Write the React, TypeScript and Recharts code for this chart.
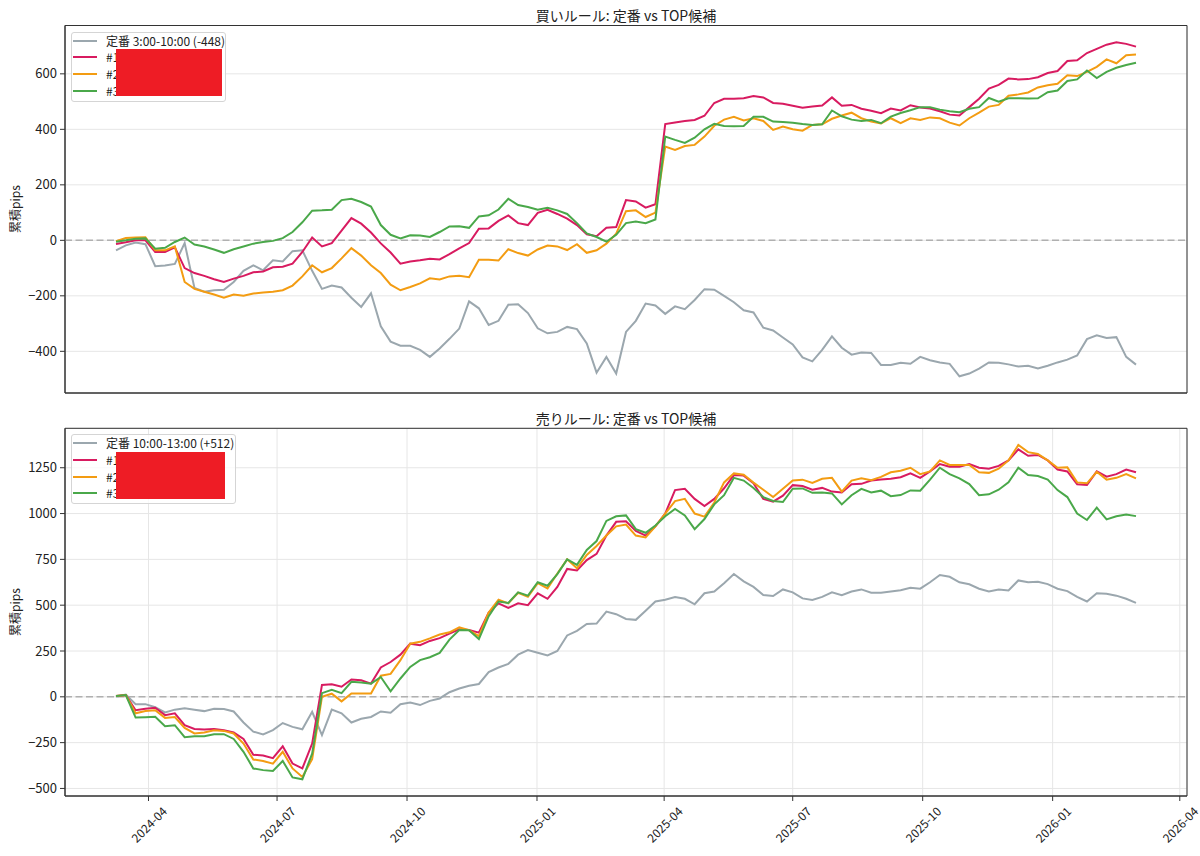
import {
  LineChart, Line, XAxis, YAxis, CartesianGrid, ReferenceLine, ReferenceArea,
} from 'recharts'

// matplotlib-ish look, plain hex (SVG attributes)
const FONT        = "'Noto Sans CJK JP', 'Noto Sans', sans-serif"
const TEXT_COLOR  = '#222222'
const AXIS_COLOR  = '#333333'
const GRID_COLOR  = '#e6e6e6'
const ZERO_COLOR  = '#b0b0b0'
const TICK_SIZE   = 13
const DATE_SIZE   = 12
const SERIES_COLORS = ['#9ba7ae', '#d81b60', '#f39c12', '#4aa84a']

// weekly samples 2024-03-09 .. 2026-03-01
const START  = Date.UTC(2024, 2, 9)
const END    = Date.UTC(2026, 2, 1)
const POINTS = 105
const DATES  = Array.from({ length: POINTS }, (_, i) => START + ((END - START) * i) / (POINTS - 1))

const X_TICK_LABELS = ['2024-04', '2024-07', '2024-10', '2025-01', '2025-04', '2025-07', '2025-10', '2026-01', '2026-04']
const X_TICKS = X_TICK_LABELS.map(s => Date.UTC(+s.slice(0, 4), +s.slice(5) - 1, 1))
const X_PAD = (END - START) * 0.05
const X_DOMAIN: [number, number] = [START - X_PAD, END + X_PAD]

const BUY_Y_TICKS  = [-400, -200, 0, 200, 400, 600]
const SELL_Y_TICKS = [-500, -250, 0, 250, 500, 750, 1000, 1250]

const BUY_TITLE  = '買いルール: 定番 vs TOP候補'
const SELL_TITLE = '売りルール: 定番 vs TOP候補'
const Y_LABEL    = '累積pips'
const BUY_LABELS  = ['定番 3:00-10:00 (-448)', '#1', '#2', '#3']
const SELL_LABELS = ['定番 10:00-13:00 (+512)', '#1', '#2', '#3']

// ---- buy rule (top) ----
const BUY_BASE = [
  -36, -18, -8, -14, -93, -91, -85, -10, -172, -185,
  -180, -178, -150, -110, -90, -108, -72, -76, -39, -36,
  -110, -175, -163, -170, -207, -240, -191, -310, -365, -380,
  -380, -395, -420, -390, -355, -318, -220, -245, -305, -290,
  -232, -230, -262, -317, -335, -330, -312, -320, -372, -477,
  -420, -480, -330, -290, -228, -235, -265, -238, -248, -215,
  -176, -178, -200, -223, -252, -260, -315, -325, -350, -375,
  -422, -436, -395, -346, -387, -412, -404, -406, -449, -449,
  -441, -445, -420, -432, -440, -445, -490, -480, -462, -440,
  -441, -447, -455, -452, -462, -452, -440, -430, -415, -356,
  -342, -352, -349, -420, -448,
]
const BUY_1 = [
  -13, -7, 0, 0, -42, -42, -25, -100, -118, -128,
  -140, -150, -138, -128, -115, -112, -97, -95, -84, -42,
  10, -22, -10, 35, 80, 60, 28, -11, -44, -84,
  -76, -72, -66, -69, -50, -29, -10, 42, 43, 70,
  90, 62, 55, 99, 110, 95, 78, 55, 22, 15,
  45, 48, 145, 140, 118, 130, 419, 425, 430, 434,
  449, 495, 510, 510, 512, 520, 515, 495, 492, 485,
  478, 482, 486, 515, 485, 488, 474, 467, 458, 475,
  468, 487, 479, 475, 465, 453, 450, 480, 510, 547,
  560, 583, 580, 581, 588, 603, 610, 646, 649, 675,
  690, 705, 714, 708, 698,
]
const BUY_2 = [
  -3, 8, 10, 11, -36, -36, -22, -150, -175, -185,
  -195, -207, -195, -200, -192, -188, -185, -180, -163, -130,
  -90, -115, -100, -65, -28, -55, -90, -118, -160, -180,
  -168, -155, -137, -141, -130, -128, -133, -70, -70, -73,
  -32, -46, -55, -33, -19, -22, -35, -14, -45, -36,
  -12, 24, 105, 108, 84, 100, 338, 326, 340, 344,
  374, 413, 435, 445, 432, 440, 430, 398, 410, 400,
  395, 416, 418, 438, 450, 460, 440, 428, 421, 440,
  422, 440, 434, 443, 440, 424, 414, 440, 460, 482,
  488, 521, 526, 533, 551, 559, 564, 595, 592, 607,
  625, 652, 638, 667, 670,
]
const BUY_3 = [
  -5, 0, 6, 7, -30, -27, -6, 10, -15, -22,
  -33, -45, -32, -22, -12, -6, -2, 8, 30, 65,
  107, 108, 110, 145, 150, 138, 122, 55, 20, 7,
  18, 17, 12, 30, 50, 51, 45, 86, 90, 111,
  150, 127, 120, 110, 117, 108, 95, 62, 25, 12,
  -5, 20, 62, 68, 62, 75, 374, 362, 351, 370,
  400, 420, 412, 411, 412, 445, 445, 428, 426, 424,
  419, 416, 418, 468, 447, 435, 430, 434, 422, 446,
  459, 469, 480, 480, 471, 465, 462, 474, 480, 513,
  500, 512, 512, 511, 512, 534, 540, 574, 580, 612,
  585, 607, 622, 632, 640,
]

// ---- sell rule (bottom) ----
const SELL_BASE = [
  0, 12, -40, -40, -57, -85, -70, -62, -70, -78,
  -65, -67, -80, -140, -190, -205, -182, -143, -164, -177,
  -82, -209, -70, -90, -140, -120, -110, -80, -87, -40,
  -31, -45, -22, -9, 25, 45, 60, 70, 135, 160,
  180, 230, 255, 240, 226, 250, 335, 360, 398, 400,
  465, 451, 425, 420, 470, 520, 530, 545, 535, 505,
  565, 575, 620, 670, 630, 600, 555, 550, 586, 570,
  537, 528, 545, 570, 555, 575, 586, 568, 568, 575,
  582, 595, 590, 625, 665, 655, 625, 614, 590, 575,
  585, 580, 635, 625, 628, 615, 590, 577, 545, 520,
  565, 562, 552, 535, 513,
]
const SELL_1 = [
  5, 10, -73, -65, -60, -100, -90, -155, -175, -178,
  -175, -182, -195, -230, -316, -320, -335, -270, -364, -391,
  -255, 65, 69, 55, 95, 90, 72, 160, 190, 230,
  290, 282, 305, 320, 345, 368, 365, 350, 460, 510,
  485, 510, 500, 565, 535, 600, 698, 690, 746, 780,
  880, 955, 958, 905, 880, 930, 1000, 1128, 1135, 1080,
  1041, 1080, 1138, 1210, 1207, 1165, 1080, 1065, 1098, 1155,
  1150, 1130, 1140, 1120, 1115, 1160, 1162, 1180, 1186, 1190,
  1198, 1220, 1195, 1230, 1270, 1256, 1256, 1270, 1250, 1245,
  1260, 1290, 1350, 1315, 1320, 1290, 1240, 1230, 1160, 1156,
  1230, 1201, 1215, 1240, 1225,
]
const SELL_2 = [
  5, 10, -90, -78, -73, -115, -110, -170, -200, -195,
  -182, -186, -200, -255, -342, -350, -365, -300, -391, -437,
  -340, 0, 17, -25, 18, 18, 18, 115, 125, 200,
  290, 300, 319, 340, 352, 379, 363, 331, 460, 530,
  510, 568, 546, 620, 592, 673, 750, 701, 774, 823,
  880, 930, 940, 880, 870, 930, 1000, 1068, 1080, 1000,
  983, 1060, 1170, 1219, 1212, 1169, 1130, 1090, 1135, 1180,
  1185, 1167, 1190, 1195, 1120, 1180, 1192, 1182, 1200, 1225,
  1234, 1250, 1215, 1230, 1290, 1265, 1265, 1265, 1225, 1222,
  1245, 1290, 1374, 1335, 1325, 1290, 1250, 1252, 1170, 1165,
  1228, 1185, 1195, 1215, 1192,
]
const SELL_3 = [
  5, 10, -113, -111, -109, -160, -155, -220, -215, -215,
  -204, -204, -230, -300, -391, -400, -405, -350, -440, -450,
  -310, 20, 38, 20, 82, 78, 72, 108, 30, 100,
  163, 200, 216, 240, 312, 364, 363, 315, 440, 520,
  512, 570, 552, 625, 606, 670, 750, 720, 801, 850,
  960, 985, 990, 915, 895, 935, 985, 1025, 990, 915,
  970, 1050, 1100, 1195, 1180, 1140, 1090, 1069, 1063, 1136,
  1137, 1113, 1115, 1110, 1050, 1100, 1135, 1115, 1125, 1095,
  1101, 1126, 1125, 1185, 1250, 1215, 1192, 1161, 1100, 1105,
  1130, 1170, 1250, 1210, 1205, 1185, 1128, 1090, 1000, 965,
  1032, 968, 985, 995, 986,
]

const fmtNum = (v: number) => String(v).replace('-', '\u2212')
const fmtDate = (t: number) => {
  const d = new Date(t)
  return `${d.getUTCFullYear()}-${String(d.getUTCMonth() + 1).padStart(2, '0')}`
}

function DateTick({ x, y, payload }: any) {
  const cy = y + 21
  return (
    <text
      x={x} y={cy}
      textAnchor="middle" dominantBaseline="central"
      transform={`rotate(-45, ${x}, ${cy})`}
      fontSize={DATE_SIZE} fill={TEXT_COLOR} fontFamily={FONT}
    >
      {fmtDate(payload.value)}
    </text>
  )
}

interface PanelProps {
  title: string
  series: number[][]
  labels: string[]
  yTicks: number[]
  top: number
  height: number
  marginTop: number
  xAxisHeight: number
  showDates: boolean
  legendWidth: number
  redWidth: number
}

function Panel({
  title, series, labels, yTicks, top, height, marginTop, xAxisHeight, showDates, legendWidth, redWidth,
}: PanelProps) {
  const data = DATES.map((t, i) => ({
    t, s0: series[0][i], s1: series[1][i], s2: series[2][i], s3: series[3][i],
  }))
  const all = series.flat()
  const lo = Math.min(...all)
  const hi = Math.max(...all)
  const pad = (hi - lo) * 0.05
  const yDomain: [number, number] = [lo - pad, hi + pad]
  const plotH = height - marginTop - xAxisHeight

  return (
    <div style={{ position: 'absolute', left: 0, top, width: 1200, height }}>
      <LineChart
        width={1200}
        height={height}
        data={data}
        margin={{ top: marginTop, right: 13, bottom: 0, left: 0 }}
      >
        <CartesianGrid stroke={GRID_COLOR} strokeWidth={1} />
        <XAxis
          dataKey="t"
          type="number"
          domain={X_DOMAIN}
          ticks={X_TICKS}
          allowDataOverflow
          height={xAxisHeight}
          tickSize={5}
          tickMargin={2}
          axisLine={{ stroke: AXIS_COLOR }}
          tickLine={{ stroke: AXIS_COLOR }}
          tick={showDates ? <DateTick /> : false}
          interval={0}
        />
        <YAxis
          type="number"
          domain={yDomain}
          ticks={yTicks}
          allowDataOverflow
          width={65}
          tickSize={5}
          tickMargin={3}
          axisLine={{ stroke: AXIS_COLOR }}
          tickLine={{ stroke: AXIS_COLOR }}
          tick={{ fill: TEXT_COLOR, fontSize: TICK_SIZE, fontFamily: FONT }}
          tickFormatter={fmtNum}
          interval={0}
        />
        <ReferenceLine y={0} stroke={ZERO_COLOR} strokeWidth={1.5} strokeDasharray="7 3.5" />
        {['s0', 's1', 's2', 's3'].map((key, i) => (
          <Line
            key={key}
            type="linear"
            dataKey={key}
            stroke={SERIES_COLORS[i]}
            strokeWidth={2}
            dot={false}
            activeDot={false}
            isAnimationActive={false}
          />
        ))}
        {/* full box frame like matplotlib spines */}
        <ReferenceArea
          x1={X_DOMAIN[0]} x2={X_DOMAIN[1]} y1={yDomain[0]} y2={yDomain[1]}
          fill="none" stroke={AXIS_COLOR} strokeWidth={1} ifOverflow="visible"
        />
      </LineChart>

      {/* title */}
      <div
        style={{
          position: 'absolute', left: 65, width: 1122, top: marginTop - 10.5 - 8,
          height: 16, lineHeight: '16px', textAlign: 'center',
          fontSize: 14, color: TEXT_COLOR, fontFamily: FONT,
        }}
      >
        {title}
      </div>

      {/* y label */}
      <div
        style={{
          position: 'absolute', left: 14.5 - 40, top: marginTop + plotH / 2 - 8,
          width: 80, height: 16, lineHeight: '16px', textAlign: 'center',
          transform: 'rotate(-90deg)', fontSize: 12, color: TEXT_COLOR, fontFamily: FONT,
        }}
      >
        {Y_LABEL}
      </div>

      {/* legend */}
      <div
        style={{
          position: 'absolute', left: 71, top: marginTop + 6, width: legendWidth, height: 70,
          background: 'rgba(255,255,255,0.8)', border: '1px solid #d5d5d5', borderRadius: 3,
          boxSizing: 'border-box', fontFamily: FONT,
        }}
      >
        {labels.map((label, i) => (
          <div
            key={label}
            style={{
              position: 'absolute', left: 1, top: 16.7 * i, height: 16,
              display: 'flex', alignItems: 'center',
            }}
          >
            <div style={{ width: 24, height: 2, background: SERIES_COLORS[i] }} />
            <span style={{ marginLeft: 9, fontSize: 12, lineHeight: '16px', color: TEXT_COLOR, whiteSpace: 'nowrap' }}>
              {label}
            </span>
          </div>
        ))}
        <div
          style={{
            position: 'absolute', left: 44, top: 16.5, width: redWidth, height: 47,
            background: '#ee1c25',
          }}
        />
      </div>
    </div>
  )
}

export default function App() {
  return (
    <div
      style={{
        position: 'absolute', left: 0, top: 0, width: 1200, height: 856,
        background: '#ffffff', fontFamily: FONT, overflow: 'hidden',
      }}
    >
      <Panel
        title={BUY_TITLE}
        series={[BUY_BASE, BUY_1, BUY_2, BUY_3]}
        labels={BUY_LABELS}
        yTicks={BUY_Y_TICKS}
        top={0}
        height={400}
        marginTop={25.5}
        xAxisHeight={7}
        showDates={false}
        legendWidth={155}
        redWidth={106}
      />
      <Panel
        title={SELL_TITLE}
        series={[SELL_BASE, SELL_1, SELL_2, SELL_3]}
        labels={SELL_LABELS}
        yTicks={SELL_Y_TICKS}
        top={400}
        height={456}
        marginTop={28.3}
        xAxisHeight={60}
        showDates
        legendWidth={165}
        redWidth={109}
      />
    </div>
  )
}
